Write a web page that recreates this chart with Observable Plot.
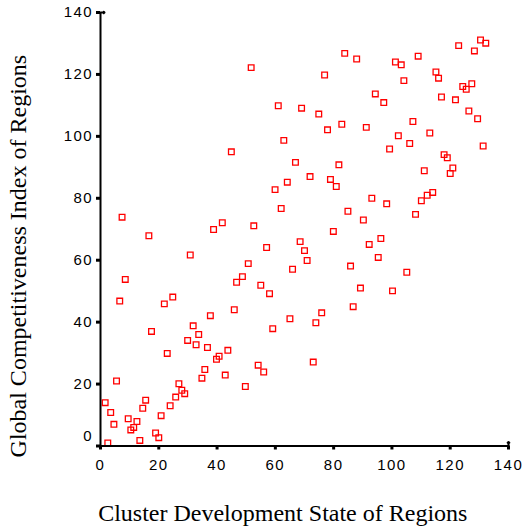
<!DOCTYPE html>
<html><head><meta charset="utf-8">
<script src="https://cdn.jsdelivr.net/npm/d3@7"></script>
<script src="https://cdn.jsdelivr.net/npm/@observablehq/plot@0.6"></script>
<style>
html,body{margin:0;padding:0;background:#fff;overflow:hidden}
#chart svg g[aria-label="x-axis tick label"] text,
#chart svg g[aria-label="y-axis tick label"] text{letter-spacing:1.5px}
</style></head><body><div id="chart"></div>
<script>
const xValues = [51.7,61.0,69.0,62.9,44.9,66.9,71.9,64.1,59.9,62.0,7.4,41.8,38.8,52.6,83.8,87.9,76.9,101.2,103.2,109.0,115.1,116.0,104.1,122.9,130.4,132.2,128.3,124.3,125.5,127.4,117.0,121.8,126.4,129.4,94.3,97.2,74.9,77.9,82.8,91.2,107.2,113.0,102.2,106.1,99.2,131.3,117.9,119.0,120.9,120.0,111.1,81.8,78.9,80.9,93.1,98.2,114.0,112.1,110.1,84.9,90.2,108.1,79.9,16.6,30.8,8.5,6.6,21.9,24.8,17.5,22.9,5.5,1.6,3.5,4.6,9.5,12.5,11.4,10.4,13.5,2.5,15.5,14.5,18.9,20.0,20.8,23.9,25.8,26.9,27.9,28.9,34.8,35.8,29.9,31.8,32.8,33.7,36.7,37.7,39.8,40.7,43.7,42.8,49.7,45.9,46.7,48.7,50.7,55.0,58.0,57.0,59.1,54.1,56.0,65.0,65.9,68.5,70.0,70.9,73.0,92.2,96.2,95.3,85.8,105.1,89.2,100.2,86.7,75.9,73.9];
const yValues = [122.2,109.9,109.1,98.7,95.0,91.6,87.0,85.2,82.8,76.7,73.9,72.1,69.9,71.1,126.8,125.0,119.8,124.0,123.1,125.9,120.8,118.8,118.0,129.3,131.1,130.1,127.6,116.1,115.2,117.0,112.7,111.8,108.2,105.7,113.7,110.9,107.2,102.1,103.9,102.9,104.8,101.1,100.2,97.7,95.9,96.9,94.1,93.1,89.8,88.0,88.9,90.8,86.1,83.8,80.0,78.2,81.9,81.0,79.2,75.8,73.0,74.8,69.3,67.9,61.7,53.8,46.8,45.9,48.1,37.0,29.9,21.0,14.0,10.8,7.0,8.8,7.9,6.0,5.2,1.8,1.0,14.8,12.2,4.2,2.7,9.8,13.0,15.8,20.1,18.0,16.9,21.9,24.7,34.1,38.8,32.7,36.0,31.8,42.1,28.0,29.0,30.9,22.9,19.2,44.0,52.9,54.7,58.9,51.9,49.2,64.1,37.9,26.1,23.9,41.1,57.1,66.0,63.1,59.9,27.1,65.1,67.0,60.9,58.1,56.1,51.0,50.1,45.0,43.0,39.8];
const xTicks = [0,20,40,60,80,100,120,140];
const yTicks = [0,20,40,60,80,100,120,140];
const xTitle = "Cluster Development State of Regions";
const yTitle = "Global Competitiveness Index of Regions";

const points = xValues.map((x, i) => ({x, y: yValues[i]}));
const serif = "'Liberation Serif','Times New Roman',serif";

const chart = Plot.plot({
  width: 526, height: 528,
  marginLeft: 100, marginRight: 18, marginTop: 12, marginBottom: 82.5,
  style: {fontFamily: "'Liberation Sans',Arial,sans-serif", fontSize: "15px", color: "#000", background: "#fff", overflow: "visible"},
  x: {domain: [0, 140], label: null},
  y: {domain: [0, 140], label: null},
  marks: [
    Plot.dot(points, {x: "x", y: "y", symbol: "square", r: 3.2, stroke: "#ff0000", strokeWidth: 1.3, fill: "none"}),
    Plot.ruleX([0], {stroke: "#000", strokeWidth: 2}),
    Plot.ruleY([0], {stroke: "#000", strokeWidth: 2}),
    Plot.vector([yTicks[yTicks.length - 1]], {y: d => d, frameAnchor: "left", rotate: 90, length: 4, anchor: "start", strokeWidth: 2, stroke: "#000"}),
    Plot.vector([xTicks[xTicks.length - 1]], {x: d => d, frameAnchor: "bottom", rotate: 0, length: 4, anchor: "start", strokeWidth: 2, stroke: "#000"}),
    Plot.axisX({ticks: xTicks, tickSize: 4, tickPadding: 9.8, strokeWidth: 3, label: null, tickFormat: d => String(d)}),
    Plot.axisY({ticks: yTicks, tickSize: 4, text: null, strokeWidth: 3, label: null}),
    Plot.axisY({ticks: yTicks.filter(d => d !== 0), tickSize: 0, tickPadding: 7.3, label: null, tickFormat: d => String(d)}),
    Plot.axisY({ticks: [0], tickSize: 0, tickPadding: 7.3, dy: -9.5, label: null, tickFormat: d => String(d)}),
    Plot.text([xTitle], {text: d => d, frameAnchor: "bottom", textAnchor: "middle", lineAnchor: "middle", dx: -21.7, dy: 67.5, fontFamily: serif, fontSize: 24, fill: "#000"}),
    Plot.text([yTitle], {text: d => d, frameAnchor: "left", textAnchor: "middle", lineAnchor: "middle", rotate: -90, dx: -82.2, dy: 26.9, fontFamily: serif, fontSize: 24, fill: "#000"})
  ]
});
document.getElementById("chart").appendChild(chart);
</script></body></html>
